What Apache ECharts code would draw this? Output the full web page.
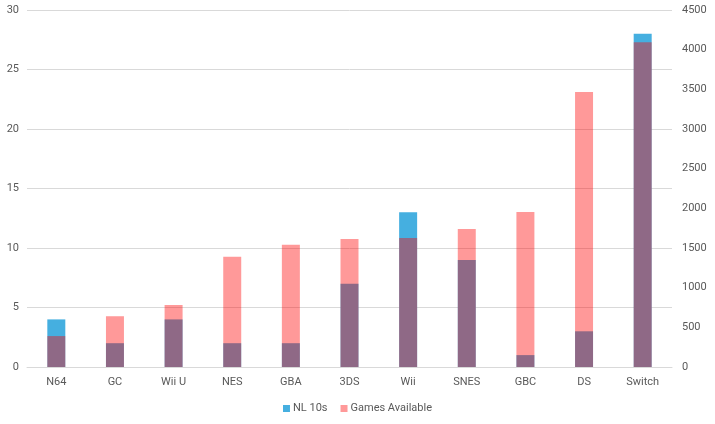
<!DOCTYPE html>
<html><head><meta charset="utf-8">
<script src="https://cdn.jsdelivr.net/npm/echarts@6/dist/echarts.min.js"></script>
<style>html,body{margin:0;padding:0;background:#fff}#c{width:715px;height:424px}</style>
</head><body><div id="c"></div>
<script>
const categories = ['N64','GC','Wii U','NES','GBA','3DS','Wii','SNES','GBC','DS','Switch'];
const nl10s = [4,2,4,2,2,7,13,9,1,3,28];
const gamesAvailable = [390,640,780,1390,1540,1615,1625,1740,1955,3465,4095];
const chart = echarts.init(document.getElementById('c'));
const txt = {color:'#595959', fontSize:11, fontFamily:'Roboto, sans-serif'};
chart.setOption({
  animation:false,
  grid:{left:27,right:43,top:10,bottom:57,containLabel:false},
  legend:{bottom:5,left:'center',itemWidth:7,itemHeight:7,itemGap:13,icon:'rect',
    textStyle:Object.assign({padding:[0,0,0,-2]},txt),
    data:['NL 10s','Games Available']},
  xAxis:{type:'category',data:categories,axisTick:{show:false},
    axisLine:{lineStyle:{color:'#d9d9d9'}},axisLabel:Object.assign({margin:10},txt)},
  yAxis:[
    {type:'value',min:0,max:30,interval:5,position:'left',axisLine:{show:false},axisTick:{show:false},
      splitLine:{lineStyle:{color:'#d9d9d9'}},axisLabel:Object.assign({margin:8},txt)},
    {type:'value',min:0,max:4500,interval:500,position:'right',axisLine:{show:false},axisTick:{show:false},
      splitLine:{show:false},axisLabel:Object.assign({margin:10,formatter:v=>String(v)},txt)}
  ],
  series:[
    {name:'NL 10s',type:'bar',yAxisIndex:0,data:nl10s,barWidth:18,barGap:'-100%',
      itemStyle:{color:'#45afe0'}},
    {name:'Games Available',type:'bar',yAxisIndex:1,data:gamesAvailable,barWidth:18,barGap:'-100%',
      itemStyle:{color:'rgba(255,0,0,0.4)'}}
  ]
});
</script></body></html>
